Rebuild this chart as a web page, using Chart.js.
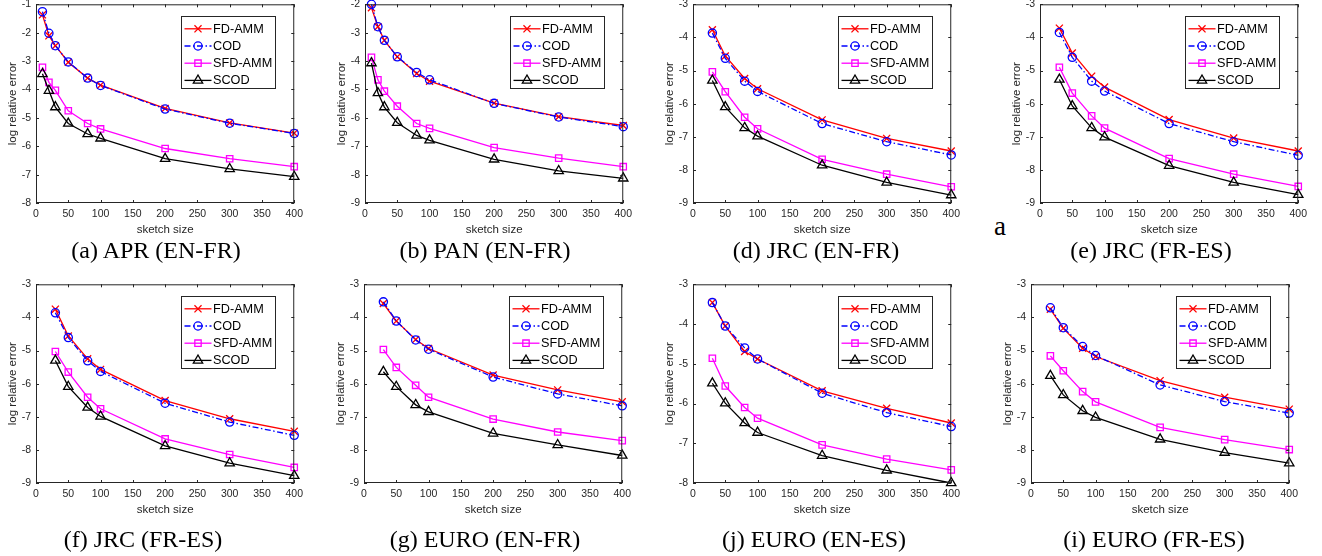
<!DOCTYPE html>
<html>
<head>
<meta charset="utf-8">
<script src="https://cdn.jsdelivr.net/npm/chart.js@4/dist/chart.umd.min.js"></script>
<style>
  body { margin: 0; background: #fff; width: 1322px; height: 556px; position: relative; overflow: hidden; }
  .panel { position: absolute; }
  .cap { position: absolute; font-family: "Liberation Serif", "Times New Roman", serif; font-size: 24px; line-height: 24px; color: #000; white-space: nowrap; transform: translateX(-50%); }
  .stray { position: absolute; font-family: "Liberation Serif", "Times New Roman", serif; font-size: 27px; line-height: 27px; color: #000; }
</style>
</head>
<body>
<div class="stray" style="left:994px;top:213px">a</div>
<script>
// sketch sizes
const sizesAB = [10, 20, 30, 50, 80, 100, 200, 300, 400];
const sizesRest = [30, 50, 80, 100, 200, 300, 400];
const seriesNames = ['FD-AMM', 'COD', 'SFD-AMM', 'SCOD'];

// (a) APR (EN-FR)
const fdA   = [-1.37, -2.11, -2.46, -3.04, -3.60, -3.85, -4.67, -5.18, -5.54];
const codA  = [-1.26, -2.02, -2.46, -3.03, -3.60, -3.86, -4.69, -5.19, -5.55];
const sfdA  = [-3.22, -3.75, -4.03, -4.75, -5.20, -5.39, -6.08, -6.44, -6.72];
const scodA = [-3.45, -4.04, -4.62, -5.20, -5.57, -5.72, -6.44, -6.80, -7.07];
// (b) PAN (EN-FR)
const fdB   = [-2.12, -2.79, -3.27, -3.85, -4.44, -4.71, -5.48, -5.96, -6.27];
const codB  = [-2.00, -2.79, -3.27, -3.85, -4.40, -4.66, -5.49, -5.97, -6.31];
const sfdB  = [-3.87, -4.66, -5.06, -5.59, -6.20, -6.37, -7.05, -7.42, -7.72];
const scodB = [-4.07, -5.12, -5.62, -6.17, -6.62, -6.79, -7.46, -7.87, -8.13];
// (d) JRC (EN-FR)
const fdD   = [-3.77, -4.56, -5.24, -5.55, -6.49, -7.05, -7.43];
const codD  = [-3.87, -4.63, -5.32, -5.63, -6.60, -7.15, -7.55];
const sfdD  = [-5.04, -5.64, -6.41, -6.76, -7.68, -8.13, -8.51];
const scodD = [-5.30, -6.10, -6.73, -6.98, -7.86, -8.38, -8.76];
// (e) JRC (FR-ES)
const fdE   = [-3.72, -4.47, -5.17, -5.50, -6.48, -7.04, -7.43];
const codE  = [-3.85, -4.60, -5.32, -5.62, -6.60, -7.15, -7.56];
const sfdE  = [-4.90, -5.68, -6.37, -6.74, -7.66, -8.13, -8.50];
const scodE = [-5.27, -6.07, -6.73, -7.01, -7.87, -8.38, -8.75];
// (f) JRC (FR-ES)
const fdF   = [-3.75, -4.56, -5.25, -5.57, -6.51, -7.06, -7.44];
const codF  = [-3.86, -4.61, -5.31, -5.63, -6.59, -7.16, -7.56];
const sfdF  = [-5.03, -5.65, -6.41, -6.76, -7.67, -8.14, -8.53];
const scodF = [-5.30, -6.09, -6.72, -6.99, -7.88, -8.40, -8.78];
// (g) EURO (EN-FR)
const fdG   = [-3.58, -4.11, -4.67, -4.94, -5.74, -6.19, -6.55];
const codG  = [-3.53, -4.11, -4.68, -4.96, -5.80, -6.31, -6.67];
const sfdG  = [-4.97, -5.51, -6.05, -6.41, -7.07, -7.46, -7.72];
const scodG = [-5.64, -6.09, -6.64, -6.85, -7.50, -7.85, -8.17];
// (j) EURO (EN-ES)
const fdJ   = [-3.46, -4.05, -4.69, -4.88, -5.68, -6.12, -6.49];
const codJ  = [-3.46, -4.05, -4.60, -4.88, -5.74, -6.23, -6.58];
const sfdJ  = [-4.86, -5.56, -6.10, -6.37, -7.04, -7.40, -7.67];
const scodJ = [-5.49, -5.99, -6.49, -6.73, -7.31, -7.68, -8.00];
// (i) EURO (FR-ES)
const fdI   = [-3.75, -4.33, -4.93, -5.18, -5.91, -6.41, -6.77];
const codI  = [-3.71, -4.31, -4.88, -5.15, -6.04, -6.54, -6.89];
const sfdI  = [-5.16, -5.61, -6.24, -6.55, -7.32, -7.69, -7.99];
const scodI = [-5.76, -6.34, -6.82, -7.02, -7.68, -8.08, -8.40];

const captions = ['(a) APR (EN-FR)', '(b) PAN (EN-FR)', '(d) JRC (EN-FR)', '(e) JRC (FR-ES)',
                  '(f) JRC (FR-ES)', '(g) EURO (EN-FR)', '(j) EURO (EN-ES)', '(i) EURO (FR-ES)'];
const yMins = [-8, -9, -9, -9, -9, -9, -8, -9];
const yMaxs = [-1, -2, -3, -3, -3, -3, -3, -3];
const xTickMin = 0, xTickMax = 400, xTickStep = 50;

const panelSeries = [
  [sizesAB, fdA, codA, sfdA, scodA], [sizesAB, fdB, codB, sfdB, scodB],
  [sizesRest, fdD, codD, sfdD, scodD], [sizesRest, fdE, codE, sfdE, scodE],
  [sizesRest, fdF, codF, sfdF, scodF], [sizesRest, fdG, codG, sfdG, scodG],
  [sizesRest, fdJ, codJ, sfdJ, scodJ], [sizesRest, fdI, codI, sfdI, scodI]
];

// layout (plot box corners, caption centres)
const plotLeft = [36, 365, 693, 1040, 36, 364, 693, 1031];
const plotTop = [3, 3, 3, 3, 283, 283, 283, 283];
const capX = [156, 485, 816, 1151, 143, 485, 814, 1154];
const capY = [250, 250, 250, 250, 539, 539, 539, 539];
const PW = 260, PH = 200, PADT = 10, PADR = 12, YW = 36, XH = 40;

const styles = [
  { color: '#ff0000', pointStyle: 'crossRot', radius: 5, dash: [] },
  { color: '#0000ff', pointStyle: 'circle', radius: 4.1, dash: [6, 2.5, 1.5, 2.5] },
  { color: '#ff00ff', pointStyle: 'rect', radius: 4.5, dash: [] },
  { color: '#000000', pointStyle: 'triangle', radius: 5.4, dash: [] }
];
const LW = 1.3;
const axisColor = '#262626';
const sansFont = '"Liberation Sans", Arial, sans-serif';

// legend marker, same shapes as chart.js point styles
function drawMarker(ctx, st, x, y) {
  const r = st.radius;
  ctx.save();
  ctx.strokeStyle = st.color;
  ctx.lineWidth = LW;
  ctx.setLineDash([]);
  ctx.beginPath();
  if (st.pointStyle === 'crossRot') {
    const o = r * Math.SQRT1_2;
    ctx.moveTo(x - o, y - o); ctx.lineTo(x + o, y + o);
    ctx.moveTo(x - o, y + o); ctx.lineTo(x + o, y - o);
  } else if (st.pointStyle === 'circle') {
    ctx.arc(x, y, r, 0, Math.PI * 2);
  } else if (st.pointStyle === 'rect') {
    const o = r * Math.SQRT1_2;
    ctx.rect(x - o, y - o, 2 * o, 2 * o);
  } else {
    ctx.moveTo(x, y - r);
    ctx.lineTo(x + r * Math.sin(Math.PI * 2 / 3), y - r * Math.cos(Math.PI * 2 / 3));
    ctx.lineTo(x + r * Math.sin(Math.PI * 4 / 3), y - r * Math.cos(Math.PI * 4 / 3));
    ctx.closePath();
  }
  ctx.stroke();
  ctx.restore();
}

const matlabFrame = {
  id: 'matlabFrame',
  afterDatasetsDraw(chart) {
    const { ctx, chartArea: a, scales: { x, y } } = chart;
    ctx.save();
    ctx.strokeStyle = axisColor;
    ctx.lineWidth = 1;
    ctx.setLineDash([]);
    ctx.beginPath();
    x.ticks.forEach(t => {
      const px = Math.round(x.getPixelForValue(t.value)) + 0.5;
      ctx.moveTo(px, a.bottom); ctx.lineTo(px, a.bottom - 3);
      ctx.moveTo(px, a.top); ctx.lineTo(px, a.top + 3);
    });
    y.ticks.forEach(t => {
      const py = Math.round(y.getPixelForValue(t.value)) + 0.5;
      ctx.moveTo(a.left, py); ctx.lineTo(a.left + 3, py);
      ctx.moveTo(a.right, py); ctx.lineTo(a.right - 3, py);
    });
    ctx.stroke();
    ctx.strokeRect(a.left + 0.5, a.top + 0.5, a.right - a.left - 1, a.bottom - a.top - 1);

    // legend box
    const bw = 94, bh = 72;
    const bx = Math.round(a.right - 19 - bw) + 0.5, by = Math.round(a.top + 12) + 0.5;
    ctx.fillStyle = '#fff';
    ctx.fillRect(bx, by, bw, bh);
    ctx.strokeStyle = axisColor;
    ctx.strokeRect(bx, by, bw, bh);
    ctx.font = '12.7px ' + sansFont;
    ctx.textBaseline = 'middle';
    ctx.textAlign = 'left';
    seriesNames.forEach((name, i) => {
      const st = styles[i];
      const ry = by + 12.3 + 17.2 * i;
      ctx.strokeStyle = st.color;
      ctx.lineWidth = LW;
      ctx.setLineDash(st.dash);
      ctx.beginPath();
      ctx.moveTo(bx + 3, ry); ctx.lineTo(bx + 30, ry);
      ctx.stroke();
      drawMarker(ctx, st, bx + 16.5, ry);
      ctx.fillStyle = '#000';
      ctx.fillText(name, bx + 31.5, ry + 0.5);
    });
    ctx.restore();
  }
};

panelSeries.forEach((ps, p) => {
  const div = document.createElement('div');
  div.className = 'panel';
  div.style.left = (plotLeft[p] - YW) + 'px';
  div.style.top = (plotTop[p] - PADT) + 'px';
  const cw = YW + PW + PADR, chh = PADT + PH + XH;
  const cv = document.createElement('canvas');
  cv.width = cw; cv.height = chh;
  cv.style.width = cw + 'px'; cv.style.height = chh + 'px';
  div.appendChild(cv);
  document.body.appendChild(div);

  const cap = document.createElement('div');
  cap.className = 'cap';
  cap.textContent = captions[p];
  cap.style.left = capX[p] + 'px';
  cap.style.top = (capY[p] - 12) + 'px';
  document.body.appendChild(cap);

  const xs = ps[0];
  const datasets = ps.slice(1).map((vals, i) => ({
    label: seriesNames[i],
    data: xs.map((xv, k) => ({ x: xv, y: vals[k] })),
    borderColor: styles[i].color,
    borderWidth: LW,
    borderDash: styles[i].dash,
    pointStyle: styles[i].pointStyle,
    pointRadius: styles[i].radius,
    pointBorderColor: styles[i].color,
    pointBackgroundColor: 'rgba(0,0,0,0)',
    pointBorderWidth: LW,
    tension: 0,
    fill: false,
    clip: false,
    order: 4 - i
  }));

  new Chart(cv.getContext('2d'), {
    type: 'line',
    data: { datasets },
    options: {
      responsive: false,
      animation: false,
      devicePixelRatio: 1,
      layout: { padding: { left: 0, top: PADT, right: PADR, bottom: 0 } },
      plugins: { legend: { display: false }, tooltip: { enabled: false } },
      scales: {
        x: {
          type: 'linear', min: xTickMin, max: xTickMax,
          grid: { display: false, drawTicks: false }, border: { display: false },
          ticks: { stepSize: xTickStep, autoSkip: false, maxRotation: 0, padding: 5, color: axisColor, font: { family: sansFont, size: 10.5 } },
          title: { display: true, text: 'sketch size', color: axisColor, font: { family: sansFont, size: 11.5 }, padding: { top: 0, bottom: 6 } },
          afterFit: s => { s.height = XH; }
        },
        y: {
          type: 'linear', min: yMins[p], max: yMaxs[p],
          grid: { display: false, drawTicks: false }, border: { display: false },
          ticks: { stepSize: 1, padding: 5, color: axisColor, font: { family: sansFont, size: 10.5 } },
          title: { display: true, text: 'log relative error', color: axisColor, font: { family: sansFont, size: 11.5 }, padding: { top: 6, bottom: 0 } },
          afterFit: s => { s.width = YW; }
        }
      }
    },
    plugins: [matlabFrame]
  });
});
</script>
</body>
</html>
